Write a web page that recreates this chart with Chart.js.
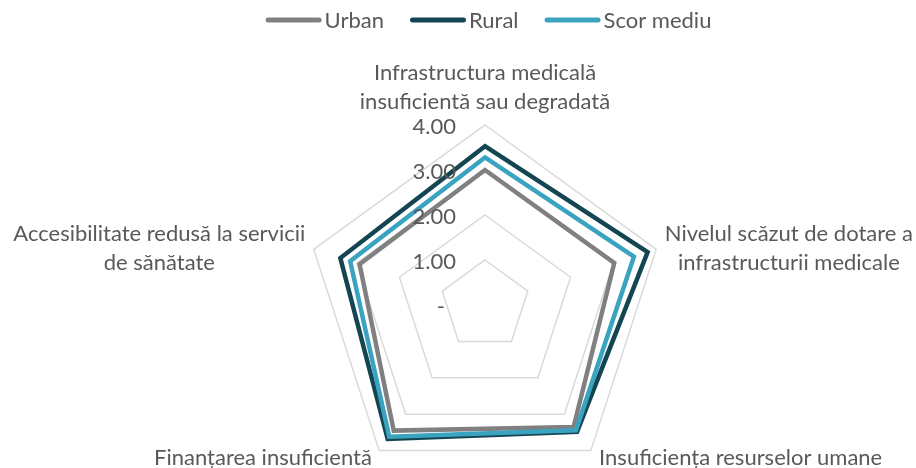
<!DOCTYPE html>
<html><head><meta charset="utf-8">
<script src="https://cdn.jsdelivr.net/npm/chart.js@4.4.1/dist/chart.umd.min.js"></script>
<style>html,body{margin:0;padding:0;background:#fff;} canvas{display:block;}</style>
</head><body>
<canvas id="c" width="916" height="468"></canvas>
<script>
const categories = [
  ['Infrastructura medicală', 'insuficientă sau degradată'],
  ['Nivelul scăzut de dotare a', 'infrastructurii medicale'],
  ['Insuficiența resurselor umane'],
  ['Finanțarea insuficientă'],
  ['Accesibilitate redusă la servicii', 'de sănătate']
];
const seriesNames = ['Urban', 'Rural', 'Scor mediu'];
const urban     = [3.00, 3.02, 3.35, 3.45, 2.93];
const rural     = [3.53, 3.80, 3.48, 3.68, 3.38];
const scorMediu = [3.28, 3.48, 3.44, 3.62, 3.15];
const tickValues = [0, 1, 2, 3, 4];
const tickLabels = ['-', '1.00', '2.00', '3.00', '4.00'];

const colors = ['#808080', '#134652', '#3aa3c0'];
const FONT = 'Lato, "Open Sans", sans-serif';
const TEXT_COLOR = '#595959';
const FS = 22;

const labelPlugin = {
  id: 'excelLabels',
  afterDraw(chart) {
    const ctx = chart.ctx;
    const s = chart.scales.r;
    ctx.save();
    ctx.font = FS + 'px ' + FONT;
    ctx.fillStyle = TEXT_COLOR;
    ctx.textBaseline = 'middle';
    // tick labels (left of vertical axis)
    tickValues.forEach((v, i) => {
      const p = s.getPointPositionForValue(0, v);
      ctx.textAlign = 'right';
      const shift = tickLabels[i] === '-' ? 11 : 0;
      ctx.fillText(tickLabels[i], p.x - 29 - shift, p.y + 2);
    });
    // point labels
    const lh = 29;
    categories.forEach((lines, i) => {
      const p = s.getPointPosition(i, s.drawingArea + 9);
      const widths = lines.map(l => ctx.measureText(l).width);
      const bw = Math.max(...widths);
      const n = lines.length;
      if (i === 0) {
        ctx.textAlign = 'center';
        lines.forEach((l, k) => ctx.fillText(l, p.x, p.y - 14 - (n - 1 - k) * lh));
      } else if (i === 1 || i === 4) {
        const cx = i === 1 ? p.x + bw / 2 : p.x - bw / 2;
        const cy = p.y + 2;
        ctx.textAlign = 'center';
        lines.forEach((l, k) => ctx.fillText(l, cx, cy + (k - (n - 1) / 2) * lh));
      } else if (i === 2) {
        ctx.textAlign = 'left';
        lines.forEach((l, k) => ctx.fillText(l, p.x + 3, p.y + k * lh));
      } else {
        ctx.textAlign = 'right';
        lines.forEach((l, k) => ctx.fillText(l, p.x - 2, p.y + k * lh));
      }
    });
    // legend
    const lineLen = 51, cap = 2.5, textGap = 3, itemGap = 26;
    const tw = seriesNames.map(n => ctx.measureText(n).width);
    const iw = tw.map(w => lineLen + 2 * cap + textGap + w);
    const total = iw.reduce((a, b) => a + b, 0) + itemGap * (seriesNames.length - 1);
    let x = 488.5 - total / 2;
    const ly = 20;
    seriesNames.forEach((name, i) => {
      const ds = chart.data.datasets[i];
      ctx.beginPath();
      ctx.strokeStyle = ds.borderColor;
      ctx.lineWidth = 5;
      ctx.lineCap = 'round';
      ctx.moveTo(x + cap, ly);
      ctx.lineTo(x + cap + lineLen, ly);
      ctx.stroke();
      ctx.textAlign = 'left';
      ctx.fillStyle = TEXT_COLOR;
      ctx.fillText(name, x + lineLen + 2 * cap + textGap, ly + 1);
      x += iw[i] + itemGap;
    });
    ctx.restore();
  }
};

const seriesData = [urban, rural, scorMediu];
new Chart(document.getElementById('c'), {
  type: 'radar',
  data: {
    labels: categories,
    datasets: seriesNames.map((name, i) => ({
      label: name,
      data: seriesData[i],
      borderColor: colors[i],
      backgroundColor: 'transparent',
      fill: false,
      borderWidth: 4.5,
      pointRadius: 0,
      pointHoverRadius: 0,
      borderJoinStyle: 'miter',
      tension: 0,
      order: 3 - i
    }))
  },
  options: {
    responsive: false,
    animation: false,
    layout: { padding: { left: 305, right: 251, top: 125, bottom: 0 } },
    plugins: { legend: { display: false }, tooltip: { enabled: false } },
    scales: {
      r: {
        min: 0, max: 4, beginAtZero: true,
        ticks: { display: false, stepSize: 1 },
        pointLabels: { display: false },
        angleLines: { display: false },
        grid: { color: '#d9d9d9', lineWidth: 1.5 },
        afterFit(scale) {
          // radius set by the available width; plot hangs from the top of the area
          scale.drawingArea = Math.floor(scale.width / 2);
          scale.yCenter = scale.top + scale.drawingArea;
        }
      }
    }
  },
  plugins: [labelPlugin]
});
</script>
</body></html>
